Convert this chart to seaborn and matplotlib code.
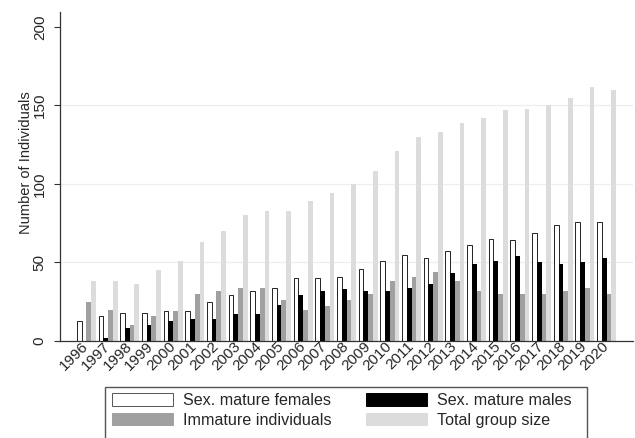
import numpy as np
import pandas as pd
import matplotlib
matplotlib.use('Agg')
import matplotlib.pyplot as plt
from matplotlib.patches import Patch, Rectangle
import seaborn as sns

years = [str(y) for y in range(1996, 2021)]
females = [13, 16, 18, 18, 19, 19, 25, 29, 32, 34, 40, 40, 41, 46, 51, 55, 53, 57, 61, 65, 64, 69, 74, 76, 76]
males = [0, 2, 8, 10, 13, 14, 14, 17, 17, 23, 29, 32, 33, 32, 32, 34, 36, 43, 49, 51, 54, 50, 49, 50, 53]
immature = [25, 20, 10, 16, 19, 30, 32, 34, 34, 26, 20, 22, 26, 30, 38, 41, 44, 38, 32, 30, 30, 30, 32, 34, 30]
total = [38, 38, 36, 45, 51, 63, 70, 80, 83, 83, 89, 94, 100, 108, 121, 130, 133, 139, 142, 147, 148, 150, 155, 162, 160]

groups = ['Sex. mature females', 'Sex. mature males', 'Immature individuals', 'Total group size']
colors = ['#ffffff', '#000000', '#a0a0a0', '#dcdcdc']

df = pd.DataFrame({
    'year': years * 4,
    'count': females + males + immature + total,
    'group': np.repeat(groups, len(years)),
})

sns.set_style('ticks')
plt.rcParams['font.family'] = ['Liberation Sans', 'DejaVu Sans']

fig = plt.figure(figsize=(6.35, 4.38), dpi=100)
ax = fig.add_axes([60 / 635, 97 / 438, 573 / 635, 329 / 438])

sns.barplot(data=df, x='year', y='count', hue='group', hue_order=groups,
            palette=colors, width=0.87, gap=0, saturation=1, legend=False, ax=ax)

# outline only on the white bars
for bar in ax.containers[0]:
    bar.set_edgecolor('#222222')
    bar.set_linewidth(0.7)
for c in ax.containers[1:]:
    for bar in c:
        bar.set_edgecolor('none')

for g in [50, 100, 150]:
    ax.axhline(g, color='#eeeeee', lw=0.9, zorder=0)

ax.set_xlim(-1.22, 25.22)
ax.set_ylim(0, 209.5)
ax.set_yticks([0, 50, 100, 150, 200])
ax.set_yticklabels(['0', '50', '100', '150', '200'], rotation=90, va='center', fontsize=11)
ax.tick_params(axis='y', length=4.5, width=0.8, color='#333333', pad=5)
ax.tick_params(axis='x', length=0, pad=2)
for lab in ax.get_xticklabels():
    lab.set_rotation(45)
    lab.set_ha('right')
    lab.set_va('center')
    lab.set_rotation_mode('anchor')
    lab.set_fontsize(11)

ax.set_xlabel('')
ax.set_ylabel('Number of Individuals', fontsize=10.5)
ax.yaxis.set_label_coords(-0.047, 0.541)
sns.despine(ax=ax)
for s in ['left', 'bottom']:
    ax.spines[s].set_color('#333333')
    ax.spines[s].set_linewidth(0.9)

handles = [Patch(facecolor=c, edgecolor=('#555555' if i == 0 else c), linewidth=0.7)
           for i, c in enumerate(colors)]
order = [0, 2, 1, 3]
fig.legend([handles[i] for i in order], [groups[i] for i in order], ncol=2,
           loc='upper left', bbox_to_anchor=(112 / 635, 1 - 393 / 438),
           bbox_transform=fig.transFigure, frameon=False, fontsize=11.6,
           borderpad=0, borderaxespad=0, handlelength=3.8, handleheight=0.8,
           handletextpad=0.62, columnspacing=2.1, labelspacing=0.3)

fig.patches.append(Rectangle((105 / 635, -0.05), 482 / 635, 51 / 438 + 0.05,
                             transform=fig.transFigure, fill=False,
                             edgecolor='#555555', linewidth=1))

fig.savefig('out.png', dpi=100)
